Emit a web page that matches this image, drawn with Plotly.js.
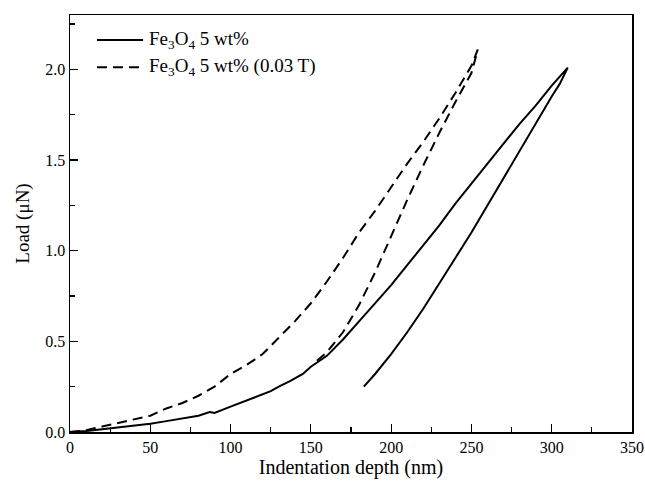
<!DOCTYPE html>
<html>
<head>
<meta charset="utf-8">
<script src="https://cdn.plot.ly/plotly-3.0.1.min.js"></script>
<style>html,body{margin:0;padding:0;background:#fff}#chart{width:645px;height:481px}</style>
</head>
<body>
<div id="chart"></div>
<script>
// Fe3O4 5 wt% : loading then unloading (depth nm, load uN)
var solidDepth = [0,10,20,30,40,50,60,70,80,87,90,100,110,120,125,130,137,145,150,160,170,180,190,200,210,220,230,240,250,260,270,280,290,300,310,
                  305,300,290,280,270,260,250,240,230,220,210,200,190,183];
var solidLoad  = [0,0.005,0.015,0.025,0.035,0.045,0.06,0.075,0.09,0.11,0.105,0.14,0.175,0.21,0.225,0.25,0.28,0.32,0.36,0.42,0.51,0.61,0.71,0.81,0.92,1.03,1.14,1.26,1.37,1.48,1.59,1.70,1.80,1.91,2.01,
                  1.92,1.85,1.70,1.55,1.40,1.25,1.10,0.96,0.82,0.68,0.55,0.43,0.32,0.25];
// Fe3O4 5 wt% (0.03 T)
var dashDepth = [0,10,20,30,40,50,60,70,80,90,100,110,120,130,140,150,160,170,180,190,200,210,220,230,240,250,254,
                 250,245,240,230,220,210,200,190,180,170,160,155,152];
var dashLoad  = [0,0.01,0.03,0.05,0.07,0.09,0.13,0.16,0.20,0.25,0.32,0.37,0.43,0.52,0.61,0.71,0.83,0.96,1.10,1.22,1.35,1.48,1.60,1.73,1.87,2.02,2.11,
                 1.98,1.90,1.82,1.65,1.47,1.28,1.08,0.88,0.70,0.55,0.44,0.40,0.38];
var seriesNames = ['Fe<sub>3</sub>O<sub>4</sub> 5 wt%', 'Fe<sub>3</sub>O<sub>4</sub> 5 wt% (0.03 T)'];
var seriesDash = ['solid', '10px,6px'];
var xTicks = [0,50,100,150,200,250,300,350];
var yTicks = [0,0.5,1.0,1.5,2.0];

var font = {family: '"Liberation Serif", "Times New Roman", serif', color: '#000'};
var traces = [
  {x: solidDepth, y: solidLoad, name: seriesNames[0], mode: 'lines', line: {color: '#000', width: 2, dash: seriesDash[0]}},
  {x: dashDepth, y: dashLoad, name: seriesNames[1], mode: 'lines', line: {color: '#000', width: 2, dash: seriesDash[1]}}
];

// hand-drawn legend (longer line samples, as in the reference)
var legendY = [0.940, 0.875];
var shapes = [], annotations = [];
seriesNames.forEach(function(n, i){
  shapes.push({type: 'line', xref: 'paper', yref: 'paper', x0: 0.048, x1: 0.13, y0: legendY[i], y1: legendY[i],
               line: {color: '#000', width: 2, dash: seriesDash[i]}});
  annotations.push({xref: 'paper', yref: 'paper', x: 0.137, y: legendY[i], xanchor: 'left', yanchor: 'middle',
                    showarrow: false, text: n, font: Object.assign({size: 19}, font)});
});

var axisCommon = {showgrid: false, zeroline: false, showline: true, linecolor: '#000', linewidth: 1.5, mirror: true,
  ticks: 'inside', ticklen: 8, tickwidth: 1.2, tickcolor: '#000', tickfont: Object.assign({size: 16}, font)};
var layout = {
  width: 645, height: 481,
  margin: {l: 70, r: 13, t: 15, b: 49},
  paper_bgcolor: '#fff', plot_bgcolor: '#fff',
  font: font,
  showlegend: false,
  shapes: shapes,
  annotations: annotations,
  xaxis: Object.assign({}, axisCommon, {range: [0, 350], tickvals: xTicks, ticktext: xTicks.map(String),
    minor: {dtick: 25, tick0: 0, ticks: 'inside', ticklen: 5, tickcolor: '#000', tickwidth: 1.2},
    title: {text: 'Indentation depth (nm)', font: Object.assign({size: 20}, font), standoff: 4}}),
  yaxis: Object.assign({}, axisCommon, {range: [0, 2.3], tickvals: yTicks, ticktext: yTicks.map(function(v){return v.toFixed(1);}),
    minor: {dtick: 0.25, tick0: 0, ticks: 'inside', ticklen: 5, tickcolor: '#000', tickwidth: 1.2},
    title: {text: 'Load (\u03bcN)', font: Object.assign({size: 19}, font), standoff: 10}})
};
Plotly.newPlot('chart', traces, layout, {displayModeBar: false, staticPlot: true});
</script>
</body>
</html>
